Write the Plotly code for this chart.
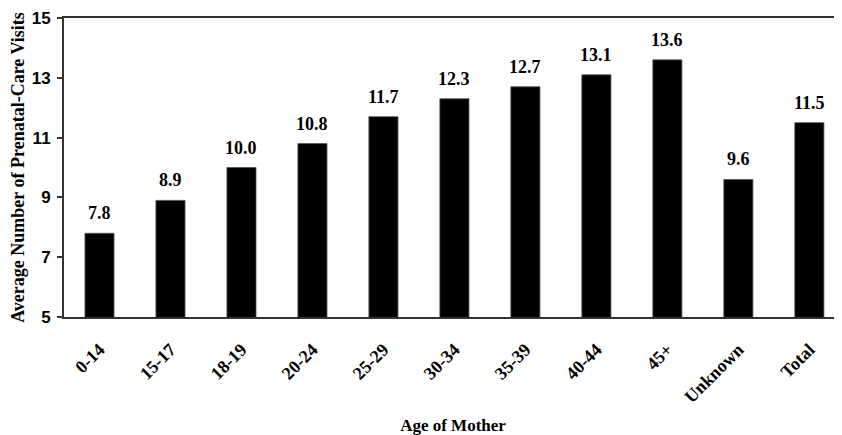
import plotly.graph_objects as go

categories = ["0-14", "15-17", "18-19", "20-24", "25-29", "30-34", "35-39", "40-44", "45+", "Unknown", "Total"]
values = [7.8, 8.9, 10.0, 10.8, 11.7, 12.3, 12.7, 13.1, 13.6, 9.6, 11.5]
labels = [f"{v:.1f}" for v in values]
y_ticks = [5, 7, 9, 11, 13, 15]

serif = "Liberation Serif, Times New Roman, serif"
sans = "Liberation Sans, Arial, sans-serif"

xs = list(range(len(categories)))

fig = go.Figure(go.Bar(
    x=xs,
    y=values,
    width=0.41,
    marker=dict(color="black", line=dict(color="#555", width=0.8)),
    hoverinfo="skip",
))

for xi, v, lab in zip(xs, values, labels):
    fig.add_annotation(
        x=xi, y=v, text=f"<b>{lab}</b>", showarrow=False,
        yanchor="bottom", yshift=8,
        font=dict(family=serif, size=18, color="black"),
    )

fig.update_layout(
    width=834, height=427,
    margin=dict(l=56, r=0, t=10, b=118),
    plot_bgcolor="white", paper_bgcolor="white",
    showlegend=False,
    font=dict(family=serif, color="black"),
    xaxis=dict(
        tickmode="array",
        tickvals=xs,
        ticktext=[f"<b>{c}</b>" for c in categories],
        tickangle=-45,
        tickfont=dict(family=serif, size=18, color="black"),
        range=[-0.5, 10.46],
        showline=True, linecolor="#333", linewidth=2, mirror=True,
        ticks="", showgrid=False,
        ticklabelstandoff=13,
        automargin=False,
        title=dict(text="<b>Age of Mother</b>", font=dict(family=serif, size=17, color="black"), standoff=14),
    ),
    yaxis=dict(
        range=[5, 15],
        tickmode="array",
        tickvals=y_ticks,
        ticktext=[f"<b>{t}</b>" for t in y_ticks],
        tickfont=dict(family=sans, size=17, color="black"),
        showline=True, linecolor="#333", linewidth=2,
        ticks="outside", ticklen=5, tickcolor="#333", tickwidth=1.5,
        ticklabelstandoff=3,
        showgrid=False, zeroline=False,
        automargin=False,
        title=dict(text="<b>Average Number of Prenatal-Care Visits</b>", font=dict(family=serif, size=18, color="black"), standoff=4),
    ),
)

fig.write_html("out.html")
